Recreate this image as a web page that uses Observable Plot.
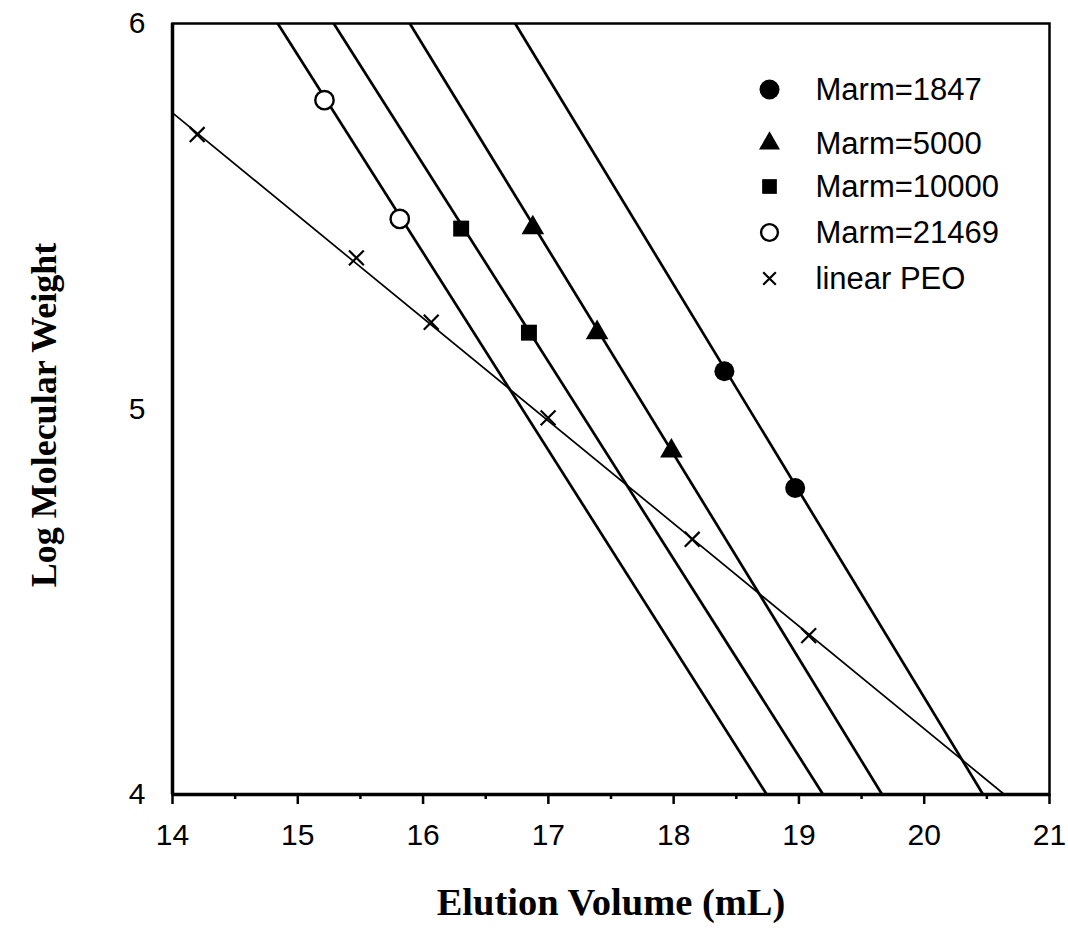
<!DOCTYPE html>
<html><head><meta charset="utf-8">
<script src="https://cdn.jsdelivr.net/npm/d3@7"></script>
<script src="https://cdn.jsdelivr.net/npm/@observablehq/plot@0.6"></script>
<style>html,body{margin:0;padding:0;background:#fff}#chart svg{display:block}</style>
</head><body><div id="chart"></div>
<script>
// ---- data ----
const xTicks = [14, 15, 16, 17, 18, 19, 20, 21];
const xMinorTicks = [14.5, 15.5, 16.5, 17.5, 18.5, 19.5, 20.5];
const yTicks = [4, 5, 6];
const seriesNames = ["Marm=1847", "Marm=5000", "Marm=10000", "Marm=21469", "linear PEO"];

const marm1847X = [18.405, 18.970];
const marm1847Y = [5.098, 4.795];
const marm5000X = [16.876, 17.389, 17.982];
const marm5000Y = [5.470, 5.198, 4.891];
const marm10000X = [16.304, 16.845];
const marm10000Y = [5.468, 5.198];
const marm21469X = [15.213, 15.814];
const marm21469Y = [5.801, 5.493];
const peoX = [14.197, 15.468, 16.065, 16.998, 18.148, 19.078];
const peoY = [5.712, 5.392, 5.225, 4.977, 4.662, 4.412];

// fitted lines, end points read where they meet the frame
const fitX1 = [16.735, 15.894, 15.287, 14.840, 14.0];
const fitY1 = [6, 6, 6, 6, 5.768];
const fitX2 = [20.470, 19.664, 19.193, 18.743, 20.640];
const fitY2 = [4, 4, 4, 4, 4];

// ---- tables ----
const seriesX = [marm1847X, marm5000X, marm10000X, marm21469X, peoX];
const seriesY = [marm1847Y, marm5000Y, marm10000Y, marm21469Y, peoY];
const points = seriesNames.map((name, s) => seriesX[s].map((x, i) => ({series: name, x, y: seriesY[s][i]})));
const fits = seriesNames.map((name, i) => ({series: name, x1: fitX1[i], y1: fitY1[i], x2: fitX2[i], y2: fitY2[i]}));

// ---- styles ----
const styles = {
  "Marm=1847":  {symbol: "circle",   fill: "black", stroke: "none",  r: 10,  sw: 0,   lr: 10},
  "Marm=5000":  {symbol: "triangle", fill: "black", stroke: "none",  r: 8.4, sw: 0,   lr: 7.8},
  "Marm=10000": {symbol: "square",   fill: "black", stroke: "none",  r: 9.0, sw: 0,   lr: 8.3},
  "Marm=21469": {symbol: "circle",   fill: "white", stroke: "black", r: 9.2, sw: 2.4, lr: 8.4},
  "linear PEO": {symbol: "times",    fill: "none",  stroke: "black", r: 6.8, sw: 2.2, lr: 5.8}
};
const lineWidths = [2.7, 2.7, 2.7, 2.7, 1.7];
const legendRowY = [89, 143, 186, 232, 278];
const W = 1068, H = 947;
const mL = 172, mR = 19, mT = 23, mB = 153;
const legendSymX = 769, legendTextX = 815;
const serif = "'Liberation Serif', 'Times New Roman', serif";

const marks = [];
// fitted lines
fits.forEach((f, i) => {
  marks.push(Plot.link([f], {x1: "x1", y1: "y1", x2: "x2", y2: "y2", stroke: "black", strokeWidth: lineWidths[i]}));
});
// points
points.forEach((pts, i) => {
  const st = styles[seriesNames[i]];
  marks.push(Plot.dot(pts, {x: "x", y: "y", symbol: st.symbol, r: st.r, fill: st.fill, stroke: st.stroke, strokeWidth: st.sw}));
});
// frame
marks.push(Plot.frame({stroke: "black", strokeWidth: 2.5}));
marks.push(Plot.ruleX([14], {stroke: "black", strokeWidth: 3.5}));
marks.push(Plot.ruleY([4], {stroke: "black", strokeWidth: 3.5}));
// axes
marks.push(Plot.axisX(xTicks, {tickSize: 10, tickPadding: 19, fontSize: 30, strokeWidth: 2.5, label: null, tickFormat: d => String(d)}));
marks.push(Plot.axisX(xMinorTicks, {tickSize: 5, strokeWidth: 2.5, label: null, tickFormat: () => ""}));
marks.push(Plot.axisY(yTicks, {tickSize: 0, tickPadding: 27, fontSize: 30, label: null, tickFormat: d => String(d)}));
// axis titles
marks.push(Plot.text(["Elution Volume (mL)"], {frameAnchor: "bottom", dy: 108, text: d => d,
  lineAnchor: "middle", textAnchor: "middle",
  fontFamily: serif, fontWeight: "bold", fontSize: 38.5, fill: "black"}));
marks.push(Plot.text(["Log Molecular Weight"], {frameAnchor: "left", dx: -128, dy: 6, rotate: -90, text: d => d,
  lineAnchor: "middle", textAnchor: "middle",
  fontFamily: serif, fontWeight: "bold", fontSize: 36, fill: "black"}));
// legend
seriesNames.forEach((name, i) => {
  const st = styles[name];
  marks.push(Plot.dot([name], {frameAnchor: "top-left", dx: legendSymX - mL, dy: legendRowY[i] - mT,
    symbol: st.symbol, r: st.lr, fill: st.fill, stroke: st.stroke, strokeWidth: st.sw}));
  marks.push(Plot.text([name], {frameAnchor: "top-left", dx: legendTextX - mL, dy: legendRowY[i] - mT + 1,
    text: d => d, textAnchor: "start", lineAnchor: "middle", fontSize: 31, fill: "black"}));
});

const chart = Plot.plot({
  width: W, height: H,
  marginLeft: mL, marginRight: mR, marginTop: mT, marginBottom: mB,
  x: {domain: [14, 21]},
  y: {domain: [4, 6]},
  style: {fontFamily: "'Liberation Sans', Arial, sans-serif", fontSize: "30px", color: "black", background: "white"},
  marks
});
document.getElementById("chart").append(chart);
</script>
</body></html>
